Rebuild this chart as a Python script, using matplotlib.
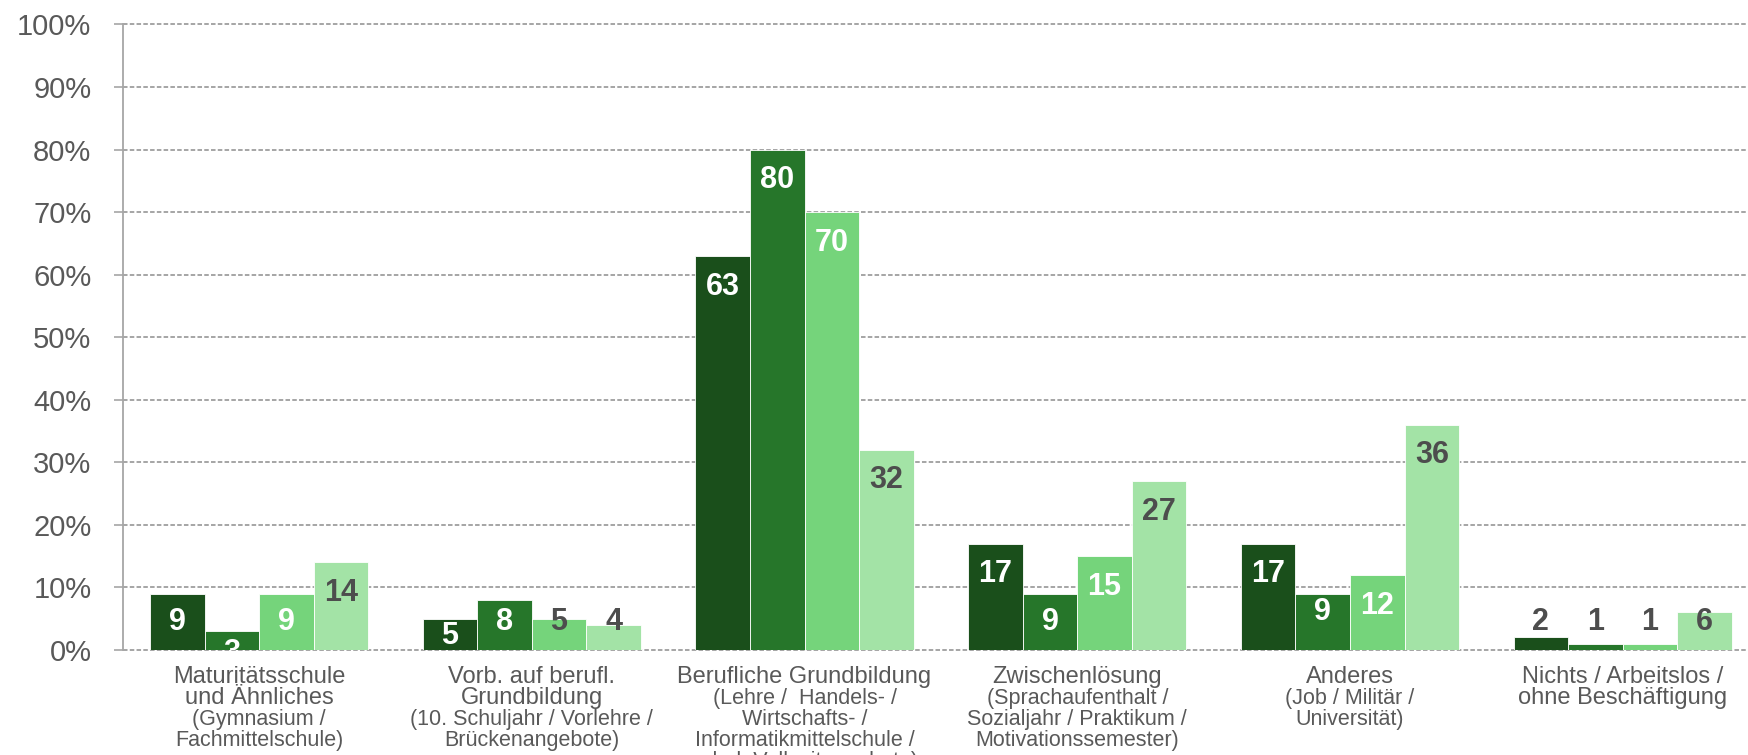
import numpy as np
from matplotlib import pyplot as plt

plt.rcParams['font.family'] = ['Liberation Sans', 'DejaVu Sans']

# data (percent per group and year)
series_a = [9, 5, 63, 17, 17, 2]
series_b = [3, 8, 80, 9, 9, 1]
series_c = [9, 5, 70, 15, 12, 1]
series_d = [14, 4, 32, 27, 36, 6]

cat_main = [["Maturitätsschule", "und Ähnliches"],
            ["Vorb. auf berufl.", "Grundbildung"],
            ["Berufliche Grundbildung"],
            ["Zwischenlösung"],
            ["Anderes"],
            ["Nichts / Arbeitslos /", "ohne Beschäftigung"]]
cat_sub = [["(Gymnasium /", "Fachmittelschule)"],
           ["(10. Schuljahr / Vorlehre /", "Brückenangebote)"],
           ["(Lehre /  Handels- /", "Wirtschafts- /", "Informatikmittelschule /", "schul. Vollzeitangebote)"],
           ["(Sprachaufenthalt /", "Sozialjahr / Praktikum /", "Motivationssemester)"],
           ["(Job / Militär /", "Universität)"],
           []]

colors = ['#1a4f1b', '#26762a', '#75d47b', '#a3e3a6']
text_gray = '#595959'
label_dark = '#4d4d4d'

W, H = 1749, 755
fig = plt.figure(figsize=(W / 100, H / 100), dpi=100)
# axes runs a little past the right edge of the figure
ax = fig.add_axes([122.7 / W, (H - 650) / H, 1636.4 / W, (650 - 24.5) / H])

all_series = [series_a, series_b, series_c, series_d]
n_cat = len(series_a)
x = np.arange(n_cat)
bw = 0.2

# labels sit inside the bar end; short bars get them lifted to a common height
manual_label_y = {(0, 1): -0.4, (1, 0): 2.3, (4, 1): 6.0}

for s, vals in enumerate(all_series):
    xs = x + (s - 1.5) * bw
    ax.bar(xs, vals, width=bw, color=colors[s], edgecolor='white',
           linewidth=0.6, zorder=2)
    for c, v in enumerate(vals):
        ly = manual_label_y.get((c, s), max(v - 4.9, 4.5))
        dark = s == 3 or ly > v - 1
        ax.text(xs[c], ly, str(v), ha='center', va='center',
                fontsize=22, fontweight='bold',
                color=label_dark if dark else 'white',
                clip_on=True, zorder=3)

ax.set_xlim(-0.5, n_cat - 0.5)
ax.set_ylim(0, 100)
ax.set_yticks(np.arange(0, 101, 10))
ax.set_yticklabels([f'{t}%' for t in range(0, 101, 10)])
ax.set_xticks([])

ax.grid(axis='y', color='#9a9a9a', linestyle=(0, (2.6, 1.3)), linewidth=1.25, zorder=0)
for gl in ax.yaxis.get_gridlines():
    gl.set_clip_on(False)
ax.set_axisbelow(True)
for side in ['top', 'right', 'bottom']:
    ax.spines[side].set_visible(False)
ax.spines['left'].set_color('#a6a6a6')
ax.spines['left'].set_linewidth(1.3)
ax.tick_params(axis='y', length=6.5, width=1.2, color='#a6a6a6',
               labelsize=21, labelcolor=text_gray, pad=16)

# multi-line category labels below the axis
line_step = 21.2
for c in range(n_cat):
    k = 0
    for line in cat_main[c]:
        ax.annotate(line, xy=(c, 0), xycoords=('data', 'axes fraction'),
                    xytext=(0, -27 - k * line_step), textcoords='offset pixels',
                    ha='center', va='center', fontsize=17, color=text_gray,
                    annotation_clip=False)
        k += 1
    for line in cat_sub[c]:
        ax.annotate(line, xy=(c, 0), xycoords=('data', 'axes fraction'),
                    xytext=(0, -27 - k * line_step), textcoords='offset pixels',
                    ha='center', va='center', fontsize=15.5, color=text_gray,
                    annotation_clip=False)
        k += 1

fig.savefig('out.png', dpi=100)
